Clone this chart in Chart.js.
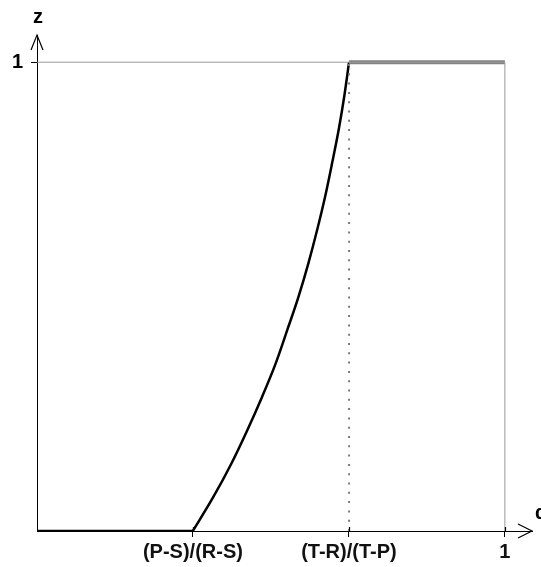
<!DOCTYPE html>
<html>
<head>
<meta charset="utf-8">
<script src="https://cdn.jsdelivr.net/npm/chart.js@4/dist/chart.umd.min.js"></script>
<style>
  html, body { margin: 0; padding: 0; background: #fff; }
  canvas { display: block; }
</style>
</head>
<body>
<canvas id="zChart" width="541" height="567"></canvas>
<script>
// tick positions and labels
let xTickValues = [1/3, 2/3, 1];
let xTickLabels = ['(P-S)/(R-S)', '(T-R)/(T-P)', '1'];
let yTickValues = [1];
let yTickLabels = ['1'];

// black curve
let curveAlpha = [0.333, 0.376, 0.415, 0.449, 0.481, 0.510, 0.535, 0.559, 0.580, 0.599, 0.616, 0.631, 0.645, 0.657, 0.667];
let curveZ     = [0, 0.071, 0.143, 0.214, 0.286, 0.357, 0.429, 0.5, 0.571, 0.643, 0.714, 0.786, 0.857, 0.929, 1];

// flat pieces
let lowAlpha = [0, 0.333];
let lowZ = [0, 0];
let highAlpha = [0.667, 1];
let highZ = [1, 1];

// guide lines
let topAlpha = [0, 1];
let topZ = [1, 1];
let rightAlpha = [1, 1];
let rightZ = [0, 1];
let dotAlpha = [0.667, 0.667];
let dotZ = [0, 1];

let axisMax = 1.058;
let font = "'Liberation Sans', Arial, sans-serif";

function pts(xs, ys) {
  return xs.map((x, i) => ({x: x, y: ys[i]}));
}

let arrows = {
  id: 'arrows',
  afterDraw(chart) {
    let ctx = chart.ctx;
    let a = chart.chartArea;
    let xs = chart.scales.x;
    ctx.save();
    ctx.strokeStyle = '#000';
    ctx.lineWidth = 1.2;
    ctx.beginPath();
    ctx.moveTo(a.right - 14, a.bottom - 7);
    ctx.lineTo(a.right, a.bottom);
    ctx.lineTo(a.right - 14, a.bottom + 7);
    ctx.moveTo(a.left - 6, a.top + 15);
    ctx.lineTo(a.left, a.top);
    ctx.lineTo(a.left + 6, a.top + 15);
    // small part of the x ticks above the axis
    xTickValues.forEach(v => {
      let px = Math.round(xs.getPixelForValue(v)) + 0.5;
      ctx.moveTo(px, a.bottom - 4);
      ctx.lineTo(px, a.bottom);
    });
    ctx.stroke();
    ctx.fillStyle = '#000';
    ctx.textBaseline = 'middle';
    ctx.textAlign = 'center';
    ctx.font = 'bold 20px ' + font;
    ctx.fillText('z', a.left + 1, 17);
    ctx.textAlign = 'left';
    ctx.fillText('α', a.right + 3, a.bottom - 18);
    ctx.restore();
  }
};

let ctx = document.getElementById('zChart').getContext('2d');

let zChart = new Chart(ctx, {
  type: 'scatter',
  data: {
    datasets: [
      { data: pts(topAlpha, topZ), showLine: true, borderColor: '#9a9a9a', borderWidth: 1, pointRadius: 0 },
      { data: pts(rightAlpha, rightZ), showLine: true, borderColor: '#9a9a9a', borderWidth: 1, pointRadius: 0 },
      { data: pts(dotAlpha, dotZ), showLine: true, borderColor: '#7a7a7a', borderWidth: 2, borderDash: [2, 7.3], pointRadius: 0 },
      { data: pts(highAlpha, highZ), showLine: true, borderColor: '#808080', borderWidth: 4, pointRadius: 0 },
      { data: pts(lowAlpha, lowZ), showLine: true, borderColor: '#000', borderWidth: 2.5, pointRadius: 0 },
      { data: pts(curveAlpha, curveZ), showLine: true, borderColor: '#000', borderWidth: 2.5, pointRadius: 0, cubicInterpolationMode: 'monotone' }
    ]
  },
  options: {
    responsive: false,
    animation: false,
    layout: { padding: { top: 35, right: 9, left: 0, bottom: 0 } },
    plugins: {
      legend: { display: false },
      tooltip: { enabled: false }
    },
    scales: {
      x: {
        type: 'linear',
        min: 0,
        max: axisMax,
        afterBuildTicks: s => { s.ticks = xTickValues.map(v => ({value: v})); },
        afterFit: s => { s.height = 36; },
        border: { display: true, color: '#000', width: 1 },
        grid: { drawOnChartArea: false, drawTicks: true, tickLength: 6, color: '#000' },
        ticks: {
          autoSkip: false,
          maxRotation: 0,
          padding: 3,
          color: '#111',
          font: { family: font, size: 20, weight: 'bold' },
          callback: (v, i) => xTickLabels[i]
        }
      },
      y: {
        type: 'linear',
        min: 0,
        max: axisMax,
        afterBuildTicks: s => { s.ticks = yTickValues.map(v => ({value: v})); },
        afterFit: s => { s.width = 37; },
        border: { display: true, color: '#000', width: 1 },
        grid: { drawOnChartArea: false, drawTicks: true, tickLength: 6, color: '#000' },
        ticks: {
          padding: 8,
          color: '#000',
          font: { family: font, size: 20, weight: 'bold' },
          callback: (v, i) => yTickLabels[i]
        }
      }
    }
  },
  plugins: [arrows]
});
</script>
</body>
</html>
